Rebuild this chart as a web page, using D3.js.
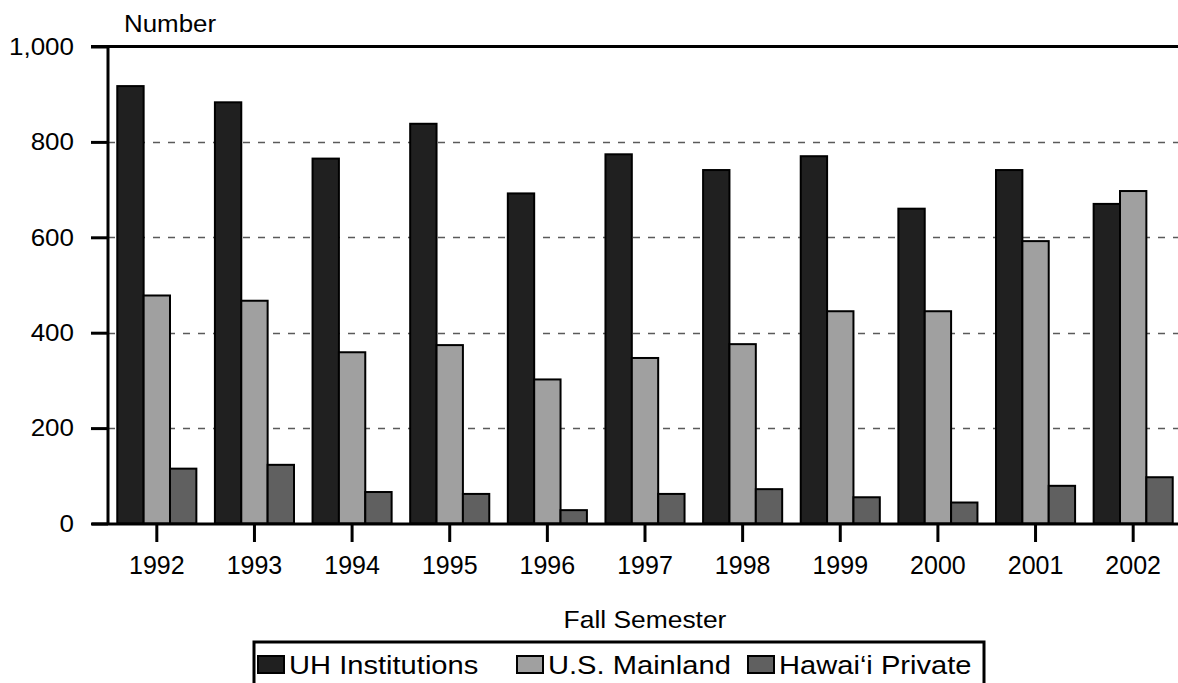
<!DOCTYPE html>
<html>
<head>
<meta charset="utf-8">
<script src="https://cdn.jsdelivr.net/npm/d3@7"></script>
<style>
  html, body { margin: 0; padding: 0; background: #fff; }
  svg { display: block; font-family: "Liberation Sans", Arial, Helvetica, sans-serif; }
</style>
</head>
<body>
<svg id="chart" width="1178" height="683"></svg>
<script>
const years = ["1992","1993","1994","1995","1996","1997","1998","1999","2000","2001","2002"];
const seriesNames = ["UH Institutions", "U.S. Mainland", "Hawai\u2018i Private"];
const uhInstitutions = [917, 883, 765, 838, 692, 774, 741, 770, 660, 741, 670];
const usMainland     = [478, 467, 359, 374, 302, 347, 376, 445, 445, 592, 697];
const hawaiiPrivate  = [115, 123, 66, 62, 28, 62, 72, 55, 44, 79, 97];
const yTicks = [0, 200, 400, 600, 800, 1000];
const seriesColors = ["#202020", "#a0a0a0", "#606060"];

(function () {
const seriesValues = [uhInstitutions, usMainland, hawaiiPrivate];
const svg = d3.select("#chart");
const W = 1178;
const pLeft = 108, pRight = 1182, pTop = 46.5, pBottom = 523.5;

const x0 = d3.scaleBand().domain(years).range([pLeft, pRight]).padding(0);
const groupW = x0.bandwidth() * 0.81;
const x1 = d3.scaleBand().domain(d3.range(3))
  .range([(x0.bandwidth() - groupW) / 2, (x0.bandwidth() + groupW) / 2]).padding(0);
const y = d3.scaleLinear().domain([0, 1000]).range([pBottom, pTop]);

// gridlines
svg.append("g").selectAll("line")
  .data(yTicks.filter(t => t > 0 && t < 1000))
  .join("line")
  .attr("x1", pLeft).attr("x2", W)
  .attr("y1", d => Math.round(y(d)) + 0.5).attr("y2", d => Math.round(y(d)) + 0.5)
  .attr("stroke", "#5a5a5a").attr("stroke-width", 1.3)
  .attr("stroke-dasharray", "7,8");

// bars
const groups = svg.append("g").selectAll("g")
  .data(years).join("g")
  .attr("transform", d => `translate(${x0(d)},0)`);
groups.selectAll("rect")
  .data((d, i) => seriesValues.map((vals, s) => ({ s, v: vals[i] })))
  .join("rect")
  .attr("x", d => x1(d.s))
  .attr("width", x1.bandwidth())
  .attr("y", d => y(d.v))
  .attr("height", d => pBottom - y(d.v))
  .attr("fill", d => seriesColors[d.s])
  .attr("stroke", "#000").attr("stroke-width", 2);

// y axis ticks
const yAxis = d3.axisLeft(y).tickValues(yTicks).tickSize(17).tickFormat(() => "");
const gy = svg.append("g").attr("transform", `translate(${pLeft},0)`).call(yAxis);
gy.select(".domain").remove();
gy.selectAll(".tick line").attr("stroke", "#000").attr("stroke-width", 3);
gy.selectAll(".tick text").remove();
// y labels (slightly wide lettering, as in the original)
const fmt = d3.format(",");
svg.append("g").selectAll("text").data(yTicks).join("text")
  .attr("transform", d => `translate(74,${y(d)}) scale(1.13,1)`)
  .attr("text-anchor", "end").attr("dy", "0.36em")
  .attr("font-size", 23).attr("fill", "#000")
  .text(d => fmt(d));

// frame lines
svg.append("line").attr("x1", pLeft).attr("x2", pLeft).attr("y1", pTop - 1).attr("y2", pBottom + 1)
  .attr("stroke", "#000").attr("stroke-width", 3);
svg.append("line").attr("x1", 91).attr("x2", W).attr("y1", pTop).attr("y2", pTop)
  .attr("stroke", "#000").attr("stroke-width", 3);
svg.append("line").attr("x1", 92).attr("x2", W).attr("y1", pBottom + 0.5).attr("y2", pBottom + 0.5)
  .attr("stroke", "#000").attr("stroke-width", 3);

// x axis
const xAxis = d3.axisBottom(x0).tickSize(18).tickPadding(14.5);
const gx = svg.append("g").attr("transform", `translate(0,${pBottom + 0.5})`).call(xAxis);
gx.select(".domain").remove();
gx.selectAll(".tick line").attr("stroke", "#000").attr("stroke-width", 3);
gx.selectAll(".tick text").attr("font-size", 25).attr("fill", "#000")
  .attr("font-family", "Liberation Sans, Arial, sans-serif");

// titles
svg.append("text").attr("transform", "translate(124,32) scale(1.08,1)")
  .attr("font-size", 24).text("Number");
svg.append("text").attr("transform", `translate(${(pLeft + pRight) / 2},628) scale(1.1,1)`)
  .attr("text-anchor", "middle").attr("font-size", 24).text("Fall Semester");

// legend
const lg = svg.append("g");
const legendStarts = [258, 517, 748];
const lgX = 254, lgW = 730;
lg.append("rect").attr("x", lgX).attr("y", 642).attr("width", lgW).attr("height", 60)
  .attr("fill", "none").attr("stroke", "#000").attr("stroke-width", 3);
seriesNames.forEach((name, i) => {
  lg.append("rect").attr("x", legendStarts[i]).attr("y", 656).attr("width", 26).attr("height", 17)
    .attr("fill", seriesColors[i]).attr("stroke", "#000").attr("stroke-width", 2);
  lg.append("text").attr("transform", `translate(${legendStarts[i] + 31},673.5) scale(1.12,1)`)
    .attr("font-size", 26).text(name);
});
})();
</script>
</body>
</html>
